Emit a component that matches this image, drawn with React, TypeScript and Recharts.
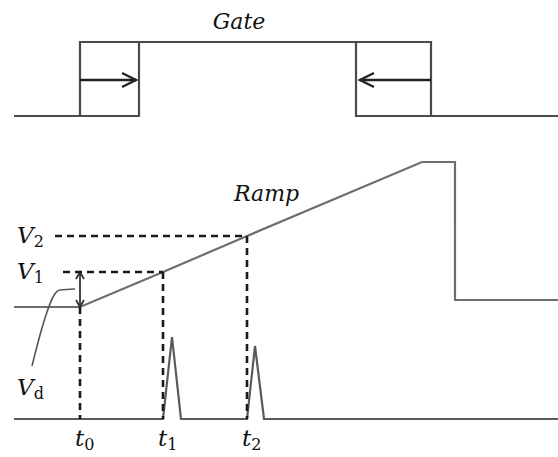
import React from 'react';
import { LineChart, Line, XAxis, YAxis, ReferenceDot } from 'recharts';

type Pt = { x: number; y: number };
const toPts = (pairs: number[][]): Pt[] => pairs.map(([x, y]) => ({ x, y }));

// gate signal (low / high levels)
const gateMain = [[14, 341], [80, 341], [80, 415], [431, 415], [431, 341], [558, 341]];
const gateOpenBox = [[80, 341], [139, 341], [139, 415]];
const gateCloseBox = [[356, 415], [356, 341], [431, 341]];
const gateOpenArrow = [[80, 377], [136, 377]];
const gateOpenHead = [[122, 384], [136, 377], [122, 370]];
const gateCloseArrow = [[431, 377], [360, 377]];
const gateCloseHead = [[374, 384], [360, 377], [374, 370]];

// ramp voltage
const ramp = [[14, 150], [80, 150], [163, 185], [247, 221], [422, 295], [455, 295], [455, 157], [558, 157]];

// detector pulses
const pulses = [[14, 38], [163, 38], [172, 120], [181, 38], [247, 38], [255, 111], [264, 38], [558, 38]];

// dashed guides
const guideV1 = [[63, 185], [163, 185]];
const guideV2 = [[55, 221], [247, 221]];
const guideT0 = [[80, 150], [80, 38]];
const guideT1 = [[163, 185], [163, 38]];
const guideT2 = [[247, 221], [247, 38]];

// Vd double arrow and leader
const vdShaft = [[80, 184], [80, 151]];
const vdHeadTop = [[76, 178], [80, 185], [84, 178]];
const vdHeadBottom = [[76, 157], [80, 150], [84, 157]];
const vdLeader = [[32, 91], [40, 122], [47, 145], [53, 160], [60, 167], [75, 168]];

const labels = [
  { main: 'Gate', sub: '', x: 239, y: 428, anchor: 'middle', size: 22 },
  { main: 'Ramp', sub: '', x: 234, y: 256, anchor: 'start', size: 22 },
  { main: 'V', sub: '2', x: 17, y: 214, anchor: 'start', size: 23 },
  { main: 'V', sub: '1', x: 17, y: 178, anchor: 'start', size: 23 },
  { main: 'V', sub: 'd', x: 17, y: 62, anchor: 'start', size: 23 },
  { main: 't', sub: '0', x: 75, y: 11, anchor: 'start', size: 23 },
  { main: 't', sub: '1', x: 158, y: 11, anchor: 'start', size: 23 },
  { main: 't', sub: '2', x: 242, y: 11, anchor: 'start', size: 23 },
];

const solid = [
  { d: gateMain, c: '#4a4a4a', w: 2.2 },
  { d: gateOpenBox, c: '#4a4a4a', w: 2.2 },
  { d: gateCloseBox, c: '#4a4a4a', w: 2.2 },
  { d: gateOpenArrow, c: '#222', w: 2.4 },
  { d: gateOpenHead, c: '#222', w: 2.4 },
  { d: gateCloseArrow, c: '#222', w: 2.4 },
  { d: gateCloseHead, c: '#222', w: 2.4 },
  { d: ramp, c: '#6e6e6e', w: 2.2 },
  { d: pulses, c: '#5a5a5a', w: 2.2 },
  { d: vdShaft, c: '#333', w: 1.8 },
  { d: vdHeadTop, c: '#333', w: 1.8 },
  { d: vdHeadBottom, c: '#333', w: 1.8 },
];

const dashed = [guideV1, guideV2, guideT0, guideT1, guideT2];

// only the DejaVu serif face comes through in the svg text
const serif = 'DejaVu Serif';

const LabelText = (props: any, l: typeof labels[number]) => (
  <text x={props.cx} y={props.cy} textAnchor={l.anchor} fontFamily={serif} fontSize={l.size} fill="#111">
    <tspan fontFamily={serif} fontStyle="italic">{l.main}</tspan>
    {l.sub && (
      <tspan fontFamily={serif} fontSize={16} fontStyle="normal" dy={4}>
        {l.sub}
      </tspan>
    )}
  </text>
);

export default function App() {
  return (
    <div style={{ position: 'absolute', left: 0, top: 0, background: '#fff' }}>
      <LineChart width={558} height={457} margin={{ top: 0, right: 0, bottom: 0, left: 0 }}>
        <XAxis dataKey="x" type="number" domain={[0, 558]} hide />
        <YAxis type="number" domain={[0, 457]} hide />
        {solid.map((s, i) => (
          <Line
            key={'s' + i}
            data={toPts(s.d)}
            dataKey="y"
            type="linear"
            stroke={s.c}
            strokeWidth={s.w}
            strokeLinejoin="miter"
            dot={false}
            activeDot={false}
            isAnimationActive={false}
          />
        ))}
        {dashed.map((d, i) => (
          <Line
            key={'d' + i}
            data={toPts(d)}
            dataKey="y"
            type="linear"
            stroke="#1a1a1a"
            strokeWidth={2.6}
            strokeDasharray="7 5"
            dot={false}
            activeDot={false}
            isAnimationActive={false}
          />
        ))}
        <Line
          data={toPts(vdLeader)}
          dataKey="y"
          type="monotone"
          stroke="#555"
          strokeWidth={1.6}
          dot={false}
          activeDot={false}
          isAnimationActive={false}
        />
        {labels.map((l, i) => (
          <ReferenceDot
            key={'l' + i}
            x={l.x}
            y={l.y}
            r={0}
            ifOverflow="visible"
            shape={(p: any) => LabelText(p, l)}
          />
        ))}
      </LineChart>
    </div>
  );
}
